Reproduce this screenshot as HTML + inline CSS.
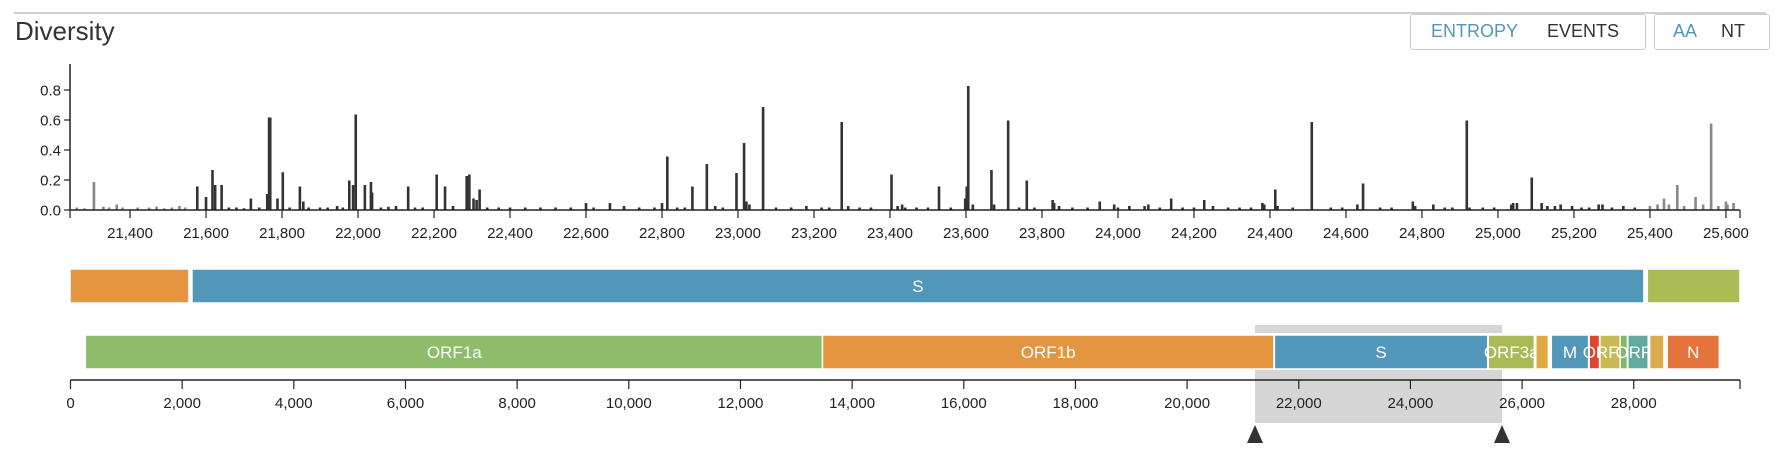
<!DOCTYPE html>
<html><head><meta charset="utf-8">
<style>
html,body{margin:0;padding:0;background:#fff;}
body{width:1786px;height:458px;overflow:hidden;position:relative;font-family:"Liberation Sans",sans-serif;}
#title{position:absolute;left:15px;top:16px;font-size:26px;color:#333;}
#topline{position:absolute;left:14px;top:12px;width:1752px;height:2px;background:#d0d0d0;}
.box{position:absolute;top:14px;height:36px;border:1.5px solid #ccc;border-radius:3px;box-sizing:border-box;font-size:18px;line-height:33px;}
.box span{position:absolute;top:0;cursor:pointer;}
svg{position:absolute;left:0;top:0;}
</style></head>
<body>
<div id="topline"></div>
<div id="title">Diversity</div>
<div class="box" style="left:1410px;width:236px;">
  <span style="left:20px;color:#5097BA;">ENTROPY</span>
  <span style="left:136px;color:#333;">EVENTS</span>
</div>
<div class="box" style="left:1654px;width:116px;">
  <span style="left:18px;color:#5097BA;">AA</span>
  <span style="left:66px;color:#333;">NT</span>
</div>
<svg id="chart" width="1786" height="458"></svg>
<script>
// ---- data ----
const barPositions = [21305,21577,21600,21617,21624,21641,21718,21761,21766,21769,21788,21802,21847,21856,21977,21987,21994,22018,22034,22037,22132,22207,22229,22286,22293,22304,22312,22320,22600,22663,22700,22800,22814,22880,22918,22940,22996,23016,23022,23030,23066,23273,23290,23404,23420,23432,23529,23598,23602,23606,23618,23667,23674,23711,23760,23828,23832,23845,23952,23990,24070,24080,24140,24227,24250,24380,24385,24414,24420,24510,24630,24645,24776,24782,24830,24918,24925,25035,25040,25050,25089,25115,25130,25165,25195,25265,25275,25437,25472,25520,25561,25600,25604];
const barValues    = [0.18,0.15,0.08,0.26,0.16,0.16,0.07,0.10,0.61,0.61,0.07,0.245,0.15,0.05,0.19,0.16,0.63,0.16,0.18,0.11,0.15,0.23,0.15,0.22,0.23,0.07,0.06,0.13,0.04,0.04,0.02,0.04,0.35,0.15,0.30,0.02,0.24,0.44,0.05,0.03,0.68,0.58,0.02,0.23,0.02,0.03,0.15,0.07,0.15,0.82,0.03,0.26,0.03,0.59,0.19,0.06,0.04,0.02,0.05,0.03,0.02,0.03,0.07,0.06,0.02,0.04,0.03,0.13,0.02,0.58,0.03,0.17,0.05,0.02,0.03,0.59,0.01,0.03,0.04,0.04,0.21,0.04,0.02,0.03,0.02,0.03,0.03,0.07,0.16,0.08,0.57,0.05,0.03];
const noisePositions = [21260,21280,21330,21345,21365,21380,21420,21450,21470,21490,21510,21530,21545,21660,21680,21700,21740,21820,21870,21900,21920,21945,21960,22060,22080,22100,22150,22170,22250,22340,22370,22400,22440,22480,22520,22560,22620,22700,22740,22780,22840,22860,22960,23100,23140,23180,23220,23240,23320,23350,23440,23470,23500,23560,23740,23780,23880,23920,24000,24030,24110,24170,24200,24290,24320,24350,24460,24560,24590,24690,24720,24860,24880,24960,24990,25150,25220,25240,25300,25330,25360,25400,25420,25450,25490,25540,25580,25620];
const noiseValues    = [0.01,0.005,0.015,0.01,0.03,0.01,0.01,0.01,0.015,0.005,0.01,0.02,0.01,0.01,0.01,0.005,0.01,0.01,0.01,0.01,0.01,0.02,0.01,0.01,0.015,0.02,0.01,0.01,0.02,0.01,0.01,0.01,0.01,0.01,0.01,0.01,0.01,0.01,0.01,0.01,0.01,0.01,0.01,0.01,0.01,0.02,0.01,0.01,0.01,0.01,0.01,0.01,0.01,0.01,0.01,0.01,0.01,0.01,0.01,0.02,0.01,0.01,0.01,0.01,0.01,0.01,0.01,0.01,0.01,0.01,0.01,0.01,0.01,0.01,0.01,0.02,0.01,0.01,0.01,0.02,0.01,0.02,0.03,0.03,0.02,0.03,0.02,0.04];
const yTicks = [0.0,0.2,0.4,0.6,0.8];
const xTicks = [21400,21600,21800,22000,22200,22400,22600,22800,23000,23200,23400,23600,23800,24000,24200,24400,24600,24800,25000,25200,25400,25600];
const genomeTicks = [0,2000,4000,6000,8000,10000,12000,14000,16000,18000,20000,22000,24000,26000,28000];
const zoomStart = 21242, zoomEnd = 25637, genomeLen = 29903;
const sStart = 21563, sEnd = 25384;
const geneNames  = ["ORF1a","ORF1b","S","ORF3a","E","M","ORF6","ORF7a","ORF7b","ORF8","N","ORF9b"];
const geneStarts = [266,13468,21563,25393,26245,26523,27202,27394,27756,27894,28600,28284];
const geneEnds   = [13483,21555,25384,26220,26472,27191,27387,27759,27887,28259,29533,28540];
const geneColors = ["#8FBC6A","#E59540","#5097BA","#AABB55","#DDAA44","#5097BA","#E0432F","#C7BB52","#80B86C","#62A99E","#E4733D","#DCAA48"];
const unlabeled = ["E","ORF6","ORF7b","ORF9b"];
const zoomGeneNames  = ["ORF1b","S","ORF3a"];
const zoomGeneStarts = [21242,21563,25393];
const zoomGeneEnds   = [21555,25384,25637];
const zoomGeneColors = ["#E59540","#5097BA","#AABB55"];
const brush = [21216,25640];

// ---- scales ----
const X0 = 70, X1 = 1740, Y0 = 210, YPX = 150;
const xs = v => X0 + (v - zoomStart) / (zoomEnd - zoomStart) * (X1 - X0);
const ys = v => Y0 - v * YPX;
const G0 = 70.5, G1 = 1740;
const gs = v => G0 + v / genomeLen * (G1 - G0);

const svg = document.getElementById('chart');
const NS = 'http://www.w3.org/2000/svg';
function mk(tag, attrs, parent){ const e = document.createElementNS(NS, tag); for (const k in attrs) e.setAttribute(k, attrs[k]); (parent||svg).appendChild(e); return e; }

// bars
const barsG = mk('g', {});


function drawBar(p, v){
  const inS = p >= sStart && p <= sEnd;
  const r = mk('rect', {x: xs(p) - 1.3, y: ys(v) - 1, width: 2.6, height: v * YPX + 1, fill: inS ? '#333' : '#888'}, barsG);
  
  
}
noisePositions.forEach((p,i) => drawBar(p, noiseValues[i]));
barPositions.forEach((p,i) => drawBar(p, barValues[i]));

// y axis
const yAx = mk('g', {});


mk('line', {x1: X0, y1: 64, x2: X0, y2: Y0, stroke: '#222', 'stroke-width': 1.5}, yAx);
yTicks.forEach(t => {
  mk('line', {x1: X0 - 6, y1: ys(t), x2: X0, y2: ys(t), stroke: '#222', 'stroke-width': 1.2}, yAx);
  const tx = mk('text', {x: X0 - 9, y: ys(t) + 5.5, 'text-anchor': 'end', 'font-size': 15, fill: '#222'}, yAx);
  tx.textContent = t.toFixed(1);
  
  
});

// x axis
const xAx = mk('g', {});


mk('line', {x1: X0, y1: Y0, x2: X1, y2: Y0, stroke: '#222', 'stroke-width': 1.5}, xAx);
mk('line', {x1: X0, y1: Y0, x2: X0, y2: Y0 + 8, stroke: '#222', 'stroke-width': 1.2}, xAx);
mk('line', {x1: X1, y1: Y0, x2: X1, y2: Y0 + 8, stroke: '#222', 'stroke-width': 1.2}, xAx);
xTicks.forEach(t => {
  mk('line', {x1: xs(t), y1: Y0, x2: xs(t), y2: Y0 + 8, stroke: '#222', 'stroke-width': 1.2}, xAx);
  const tx = mk('text', {x: xs(t), y: 238, 'text-anchor': 'middle', 'font-size': 15, fill: '#222'}, xAx);
  tx.textContent = t.toLocaleString('en-US');
  
  
});

function geneRow(names, starts, ends, colors, scale, y, h, rowName, labelAll){
  const g = mk('g', {});
  
  
  names.forEach((n,i) => {
    const x1 = scale(starts[i]), x2 = scale(ends[i]);
    const r = mk('rect', {x: x1, y: y, width: Math.max(0, x2 - x1), height: h, fill: colors[i], stroke: '#fff', 'stroke-width': 1.5}, g);
    
    
    const show = labelAll ? !unlabeled.includes(n) : n === 'S';
    if (show) {
      const t = mk('text', {x: (x1 + x2) / 2, y: y + h / 2 + 6, 'text-anchor': 'middle', 'font-size': 17, fill: '#fff'}, g);
      t.textContent = n;
      
      
    }
  });
}
geneRow(zoomGeneNames, zoomGeneStarts, zoomGeneEnds, zoomGeneColors, xs, 269, 34, 'zoomed-gene-row', false);

// brush background
const br = mk('rect', {x: gs(brush[0]), y: 325, width: gs(brush[1]) - gs(brush[0]), height: 98, fill: '#d6d6d6'});


mk('rect', {x: gs(brush[0]), y: 333, width: gs(brush[1]) - gs(brush[0]), height: 2, fill: '#fff'});

geneRow(geneNames, geneStarts, geneEnds, geneColors, gs, 335, 34, 'genome-gene-row', true);

// genome axis
const gAx = mk('g', {});


mk('line', {x1: G0, y1: 380, x2: G1, y2: 380, stroke: '#222', 'stroke-width': 1.5}, gAx);
mk('line', {x1: G1, y1: 380, x2: G1, y2: 389, stroke: '#222', 'stroke-width': 1.2}, gAx);
genomeTicks.forEach(t => {
  mk('line', {x1: gs(t), y1: 380, x2: gs(t), y2: 389, stroke: '#222', 'stroke-width': 1.2}, gAx);
  const tx = mk('text', {x: gs(t), y: 408, 'text-anchor': 'middle', 'font-size': 15, fill: '#222'}, gAx);
  tx.textContent = t.toLocaleString('en-US');
  
  
});

// brush handles
brush.forEach(b => {
  const x = gs(b);
  const h = mk('path', {d: `M${x-8},443 L${x},425 L${x+8},443 Z`, fill: '#333'});
  
  
});
</script>
</body></html>
